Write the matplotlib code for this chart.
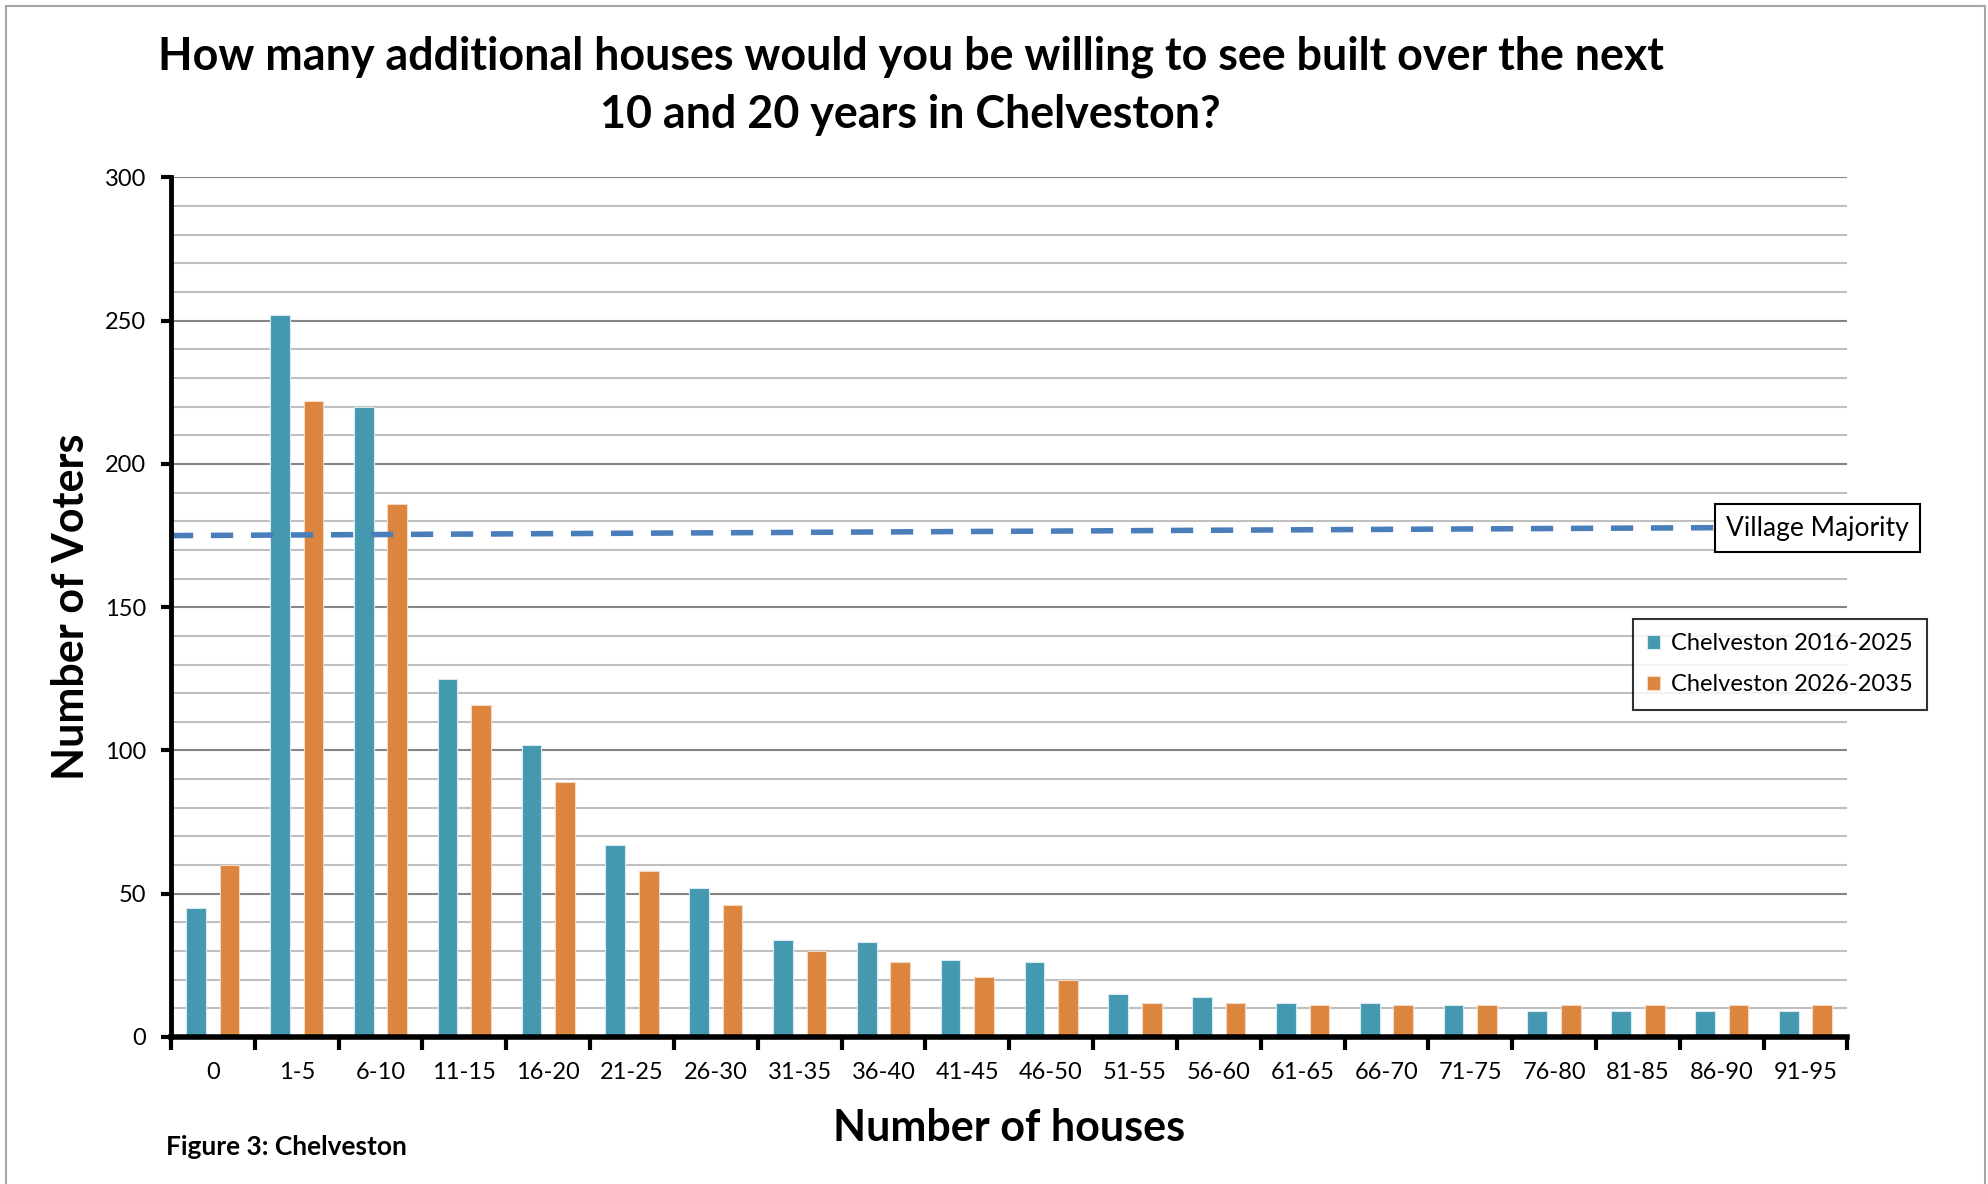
import numpy as np
import matplotlib
matplotlib.use('Agg')
import matplotlib.pyplot as plt
from matplotlib.patches import Rectangle

plt.rcParams['font.family'] = ['Lato', 'DejaVu Sans']

# Data
categories = ['0', '1-5', '6-10', '11-15', '16-20', '21-25', '26-30', '31-35', '36-40', '41-45',
              '46-50', '51-55', '56-60', '61-65', '66-70', '71-75', '76-80', '81-85', '86-90', '91-95']
votes_2016_2025 = [45, 252, 220, 125, 102, 67, 52, 34, 33, 27, 26, 15, 14, 12, 12, 11, 9, 9, 9, 9]
votes_2026_2035 = [60, 222, 186, 116, 89, 58, 46, 30, 26, 21, 20, 12, 12, 11, 11, 11, 11, 11, 11, 11]
majority_start = 175
majority_end = 178

teal = '#4499b1'
orange = '#dc853f'
dash_blue = '#4a7ebb'

fig = plt.figure(figsize=(19.88, 11.84), dpi=100)
ax = fig.add_axes([0.0860, 0.1242, 0.9293 - 0.0860, 0.8501 - 0.1242])

x = np.arange(len(categories))
w = 0.235
ax.bar(x - 0.2, votes_2016_2025, width=w, color=teal, edgecolor='#d6eaf0', linewidth=0.8,
       label='Chelveston 2016-2025', zorder=3)
ax.bar(x + 0.2, votes_2026_2035, width=w, color=orange, edgecolor='#f5d9c2', linewidth=0.8,
       label='Chelveston 2026-2035', zorder=3)

# village majority dashed line
ax.plot([-0.5, 19.5], [majority_start, majority_end], color=dash_blue, lw=4,
        dashes=(4, 3.2), zorder=4, clip_on=False)

ax.set_xlim(-0.5, len(categories) - 0.5)
ax.set_ylim(0, 300)

# gridlines
ax.set_yticks(np.arange(0, 301, 50))
ax.set_yticks(np.arange(0, 301, 10), minor=True)
ax.grid(axis='y', which='minor', color='#bfbfbf', lw=1.5, zorder=0)
ax.grid(axis='y', which='major', color='#868686', lw=1.5, zorder=1)
ax.tick_params(axis='y', which='minor', length=0)
ax.tick_params(axis='y', which='major', length=7, width=3, direction='out', labelsize=17, pad=11)

ax.set_xticks(np.arange(-0.5, len(categories), 1.0))
ax.set_xticklabels([])
ax.set_xticks(x, minor=True)
ax.set_xticklabels(categories, minor=True, fontsize=17)
ax.tick_params(axis='x', which='major', length=9, width=3, direction='out')
ax.tick_params(axis='x', which='minor', length=0, pad=18)

for s in ['top', 'right']:
    ax.spines[s].set_visible(False)
ax.spines['left'].set_linewidth(3.5)
ax.spines['bottom'].set_linewidth(4)
ax.spines['left'].set_zorder(5)
ax.spines['bottom'].set_zorder(5)

ax.set_ylabel('Number of Voters', fontsize=31, fontweight='bold', labelpad=10)
ax.set_xlabel('Number of houses', fontsize=31, fontweight='bold', labelpad=18)

fig.text(0.458, 0.952, 'How many additional houses would you be willing to see built over the next',
         ha='center', va='center', fontsize=32.3, fontweight='bold')
fig.text(0.458, 0.903, '10 and 20 years in Chelveston?',
         ha='center', va='center', fontsize=32.3, fontweight='bold')
fig.text(0.0835, 0.031, 'Figure 3: Chelveston', ha='left', va='center', fontsize=19, fontweight='bold')

leg = ax.legend(loc='upper left', bbox_to_anchor=(0.872, 0.486), frameon=True, fancybox=False,
                fontsize=17, handlelength=0.55, handleheight=0.55, handletextpad=0.45,
                labelspacing=0.85, borderpad=0.6, borderaxespad=0)
leg.get_frame().set_edgecolor('black')
leg.get_frame().set_linewidth(1.5)
leg.set_zorder(6)

fig.text(0.9143, 0.554, 'Village Majority', ha='center', va='center', fontsize=19, zorder=7,
         bbox=dict(boxstyle='square,pad=0.42', facecolor='white', edgecolor='black', linewidth=1.5))

# outer chart border
fig.patches.append(Rectangle((0.003, -0.01), 0.9955, 1.005, transform=fig.transFigure,
                             fill=False, edgecolor='#a6a6a6', linewidth=1.5))

fig.savefig('out.png', dpi=100)
